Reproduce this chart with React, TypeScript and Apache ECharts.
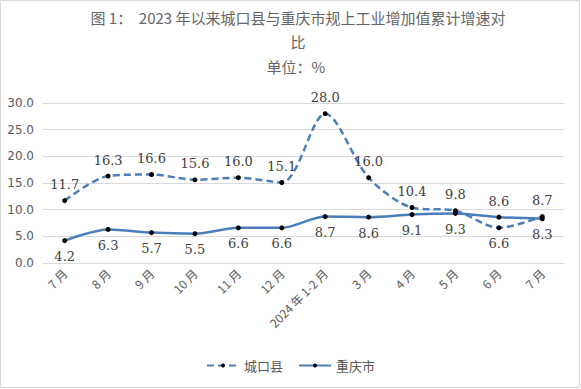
import React, { useEffect, useRef } from "react";
import * as echarts from "echarts";

const categories = ["7 月", "8 月", "9 月", "10 月", "11 月", "12 月", "2024 年 1-2 月", "3 月", "4 月", "5 月", "6 月", "7 月"];
const chengkou = [11.7, 16.3, 16.6, 15.6, 16.0, 15.1, 28.0, 16.0, 10.4, 9.8, 6.6, 8.7];
const chongqing = [4.2, 6.3, 5.7, 5.5, 6.6, 6.6, 8.7, 8.6, 9.1, 9.3, 8.6, 8.3];
const chengkouLabelPos = ["top", "top", "top", "top", "top", "top", "top", "top", "top", "top", "bottom", "top"];
const chongqingLabelPos = ["bottom", "bottom", "bottom", "bottom", "bottom", "bottom", "bottom", "bottom", "bottom", "bottom", "top", "bottom"];

const BLUE = "#4A7EBB";
const labelStyle = { fontFamily: "DejaVu Serif", fontSize: 13, color: "#404040", distance: 7 };

export default function App() {
  const ref = useRef<HTMLDivElement>(null);
  useEffect(() => {
    document.body.style.margin = "0";
    const chart = echarts.init(ref.current!, null, { renderer: "svg" });
    chart.setOption({
      animation: false,
      backgroundColor: "#ffffff",
      graphic: [
        { type: "rect", shape: { x: 0.5, y: 0.5, width: 579, height: 387 }, style: { fill: "none", stroke: "#d9d9d9", lineWidth: 1 }, silent: true },
        { type: "text", x: 298, y: 10, style: { text: "图 1：  2023 年以来城口县与重庆市规上工业增加值累计增速对", fontFamily: "Noto Sans CJK SC", fontSize: 15, fill: "#666666", align: "center" } },
        { type: "text", x: 298, y: 34, style: { text: "比", fontFamily: "Noto Sans CJK SC", fontSize: 15, fill: "#666666", align: "center" } },
        { type: "text", x: 296, y: 59, style: { text: "单位：%", fontFamily: "Noto Sans CJK SC", fontSize: 15, fill: "#666666", align: "center" } },
      ],
      legend: {
        bottom: 12,
        left: "center",
        itemWidth: 32,
        itemHeight: 5,
        itemGap: 15,
        textStyle: { fontFamily: "Noto Sans CJK SC", fontSize: 13, color: "#595959" },
        data: ["城口县", "重庆市"],
      },
      grid: { left: 43, right: 17, top: 103, bottom: 126 },
      xAxis: {
        type: "category",
        data: categories,
        boundaryGap: true,
        axisLine: { lineStyle: { color: "#d9d9d9" } },
        axisTick: { show: false },
        axisLabel: { rotate: 45, color: "#595959", fontSize: 12, fontFamily: "Noto Sans CJK SC", margin: 8, interval: 0 },
      },
      yAxis: {
        type: "value",
        min: 0,
        max: 30,
        interval: 5,
        axisLine: { show: false },
        axisTick: { show: false },
        splitLine: { lineStyle: { color: "#d9d9d9" } },
        axisLabel: { color: "#595959", fontSize: 12, fontFamily: "DejaVu Sans", formatter: (v: number) => v.toFixed(1), margin: 9 },
      },
      series: [
        {
          name: "城口县",
          type: "line",
          smooth: 0.3,
          data: chengkou.map((v, i) => ({ value: v, label: { position: chengkouLabelPos[i] } })),
          symbol: "circle",
          symbolSize: 5,
          lineStyle: { color: BLUE, width: 2.5, type: [7, 4] },
          itemStyle: { color: "#000000", borderWidth: 0 },
          label: { show: true, formatter: (p: any) => Number(p.value).toFixed(1), ...labelStyle },
        },
        {
          name: "重庆市",
          type: "line",
          smooth: 0.3,
          data: chongqing.map((v, i) => ({ value: v, label: { position: chongqingLabelPos[i] } })),
          symbol: "circle",
          symbolSize: 5,
          lineStyle: { color: BLUE, width: 2.5 },
          itemStyle: { color: "#000000", borderWidth: 0 },
          label: { show: true, formatter: (p: any) => Number(p.value).toFixed(1), ...labelStyle },
        },
      ],
    });
    return () => chart.dispose();
  }, []);
  return <div ref={ref} style={{ width: 581, height: 389 }} />;
}
